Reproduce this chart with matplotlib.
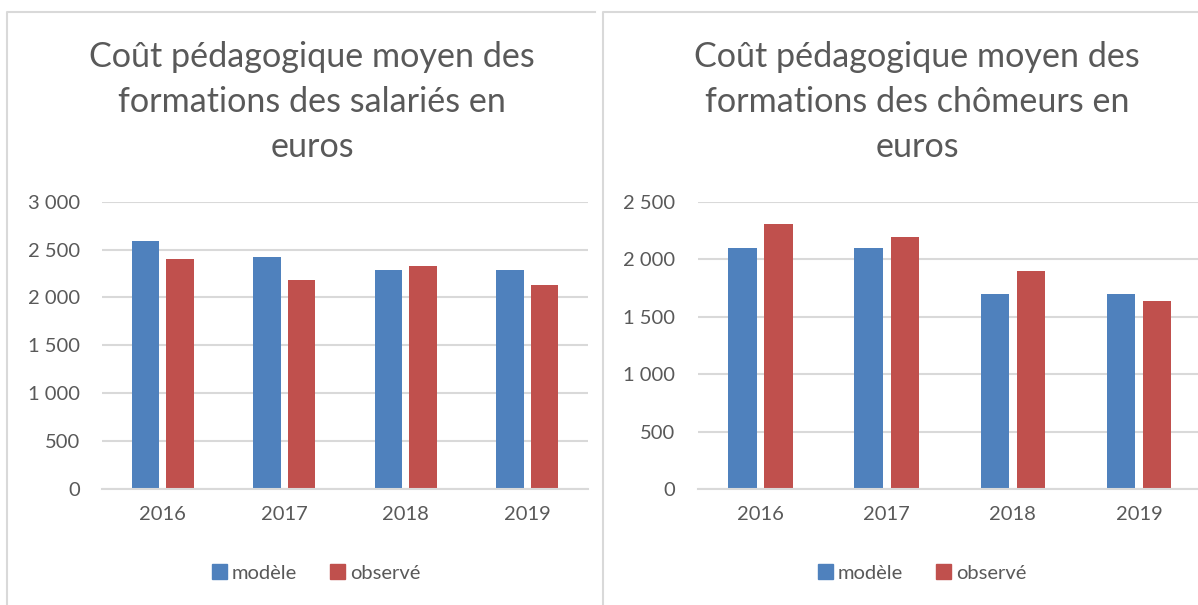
import matplotlib
matplotlib.use("Agg")
import matplotlib.pyplot as plt
from matplotlib.lines import Line2D
from matplotlib.patches import Patch
from matplotlib.ticker import FuncFormatter

annees = ["2016", "2017", "2018", "2019"]
salaries_modele = [2590, 2420, 2290, 2290]
salaries_observe = [2400, 2180, 2330, 2135]
chomeurs_modele = [2100, 2100, 1700, 1700]
chomeurs_observe = [2305, 2190, 1895, 1640]

BLEU = "#4F81BD"
ROUGE = "#C0504D"
GRIS_TEXTE = "#595959"
GRIS_LIGNE = "#D9D9D9"

plt.rcParams["font.family"] = ["Lato", "DejaVu Sans"]

W, H = 1198, 605
fig = plt.figure(figsize=(W / 100, H / 100), dpi=100)


def px(x0, y0, x1, y1):
    """pixel box (top-left origin) -> figure fraction rect"""
    return [x0 / W, 1 - y1 / H, (x1 - x0) / W, (y1 - y0) / H]


def milliers(v, pos):
    return f"{int(v):,}".replace(",", " ")


def draw_chart(rect, modele, observe, ymax, title, title_x, leg_x):
    ax = fig.add_axes(rect)
    x = range(len(annees))
    ax.bar([i - 0.143 for i in x], modele, width=0.226, color=BLEU)
    ax.bar([i + 0.143 for i in x], observe, width=0.226, color=ROUGE)
    ax.set_xlim(-0.5, len(annees) - 0.5)
    ax.set_ylim(0, ymax)
    ax.set_yticks(range(0, ymax + 1, 500))
    ax.yaxis.set_major_formatter(FuncFormatter(milliers))
    ax.set_xticks(list(x))
    ax.set_xticklabels(annees)
    ax.grid(axis="y", color=GRIS_LIGNE, linewidth=1.5)
    ax.set_axisbelow(True)
    for s in ["top", "right", "left"]:
        ax.spines[s].set_visible(False)
    ax.spines["bottom"].set_color(GRIS_LIGNE)
    ax.spines["bottom"].set_linewidth(1.5)
    ax.tick_params(axis="both", length=0, labelsize=14.5, colors=GRIS_TEXTE)
    ax.tick_params(axis="y", pad=16)
    ax.tick_params(axis="x", pad=12)

    fig.text(title_x / W, 1 - 102 / H, title, ha="center", va="center",
             fontsize=24.6, color=GRIS_TEXTE, linespacing=1.5)

    handles = [Patch(color=BLEU, label="modèle"), Patch(color=ROUGE, label="observé")]
    fig.legend(handles=handles, loc="center", bbox_to_anchor=(leg_x / W, 1 - 573 / H),
               ncol=2, frameon=False, fontsize=14.5, labelcolor=GRIS_TEXTE,
               handlelength=0.75, handleheight=0.75, handletextpad=0.25,
               columnspacing=1.6)
    return ax


draw_chart(px(102, 201.7, 588, 489), salaries_modele, salaries_observe, 3000,
           "Coût pédagogique moyen des\nformations des salariés en\neuros", 312, 316)
draw_chart(px(697.6, 201.7, 1202, 489), chomeurs_modele, chomeurs_observe, 2500,
           "Coût pédagogique moyen des\nformations des chômeurs en\neuros", 917, 922)

# cadres des graphiques
for xs, ys in [([7, 7, 595], [605, 12, 12]), ([603, 603, 1198], [605, 12, 12])]:
    fig.add_artist(Line2D([v / W for v in xs], [1 - v / H for v in ys],
                          color=GRIS_LIGNE, linewidth=1.5))

fig.savefig("out.png", dpi=100)
